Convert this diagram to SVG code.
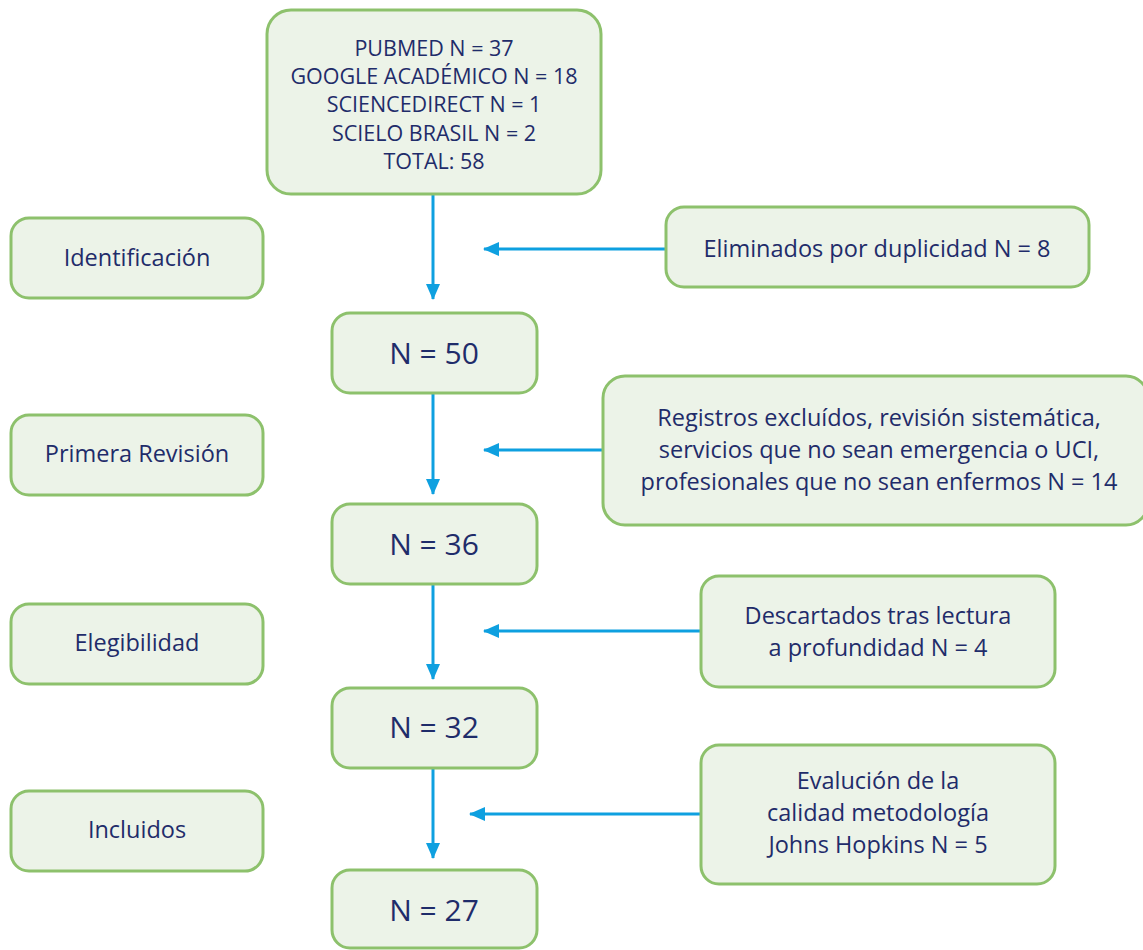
<svg xmlns="http://www.w3.org/2000/svg" width="1143" height="950" viewBox="0 0 1143 950">
<defs>
<style>
.box{fill:#ecf3e8;stroke:#8dc16c;stroke-width:3}
text{font-family:"Open Sans","Noto Sans",sans-serif;fill:#1f2c6a;text-anchor:middle;dominant-baseline:central}
.t{font-size:23.5px}
.s{font-size:21.5px}
.b{font-size:30px}
.c{stroke:#0ea0e0;stroke-width:3;fill:none}
</style>
<marker id="ah2" markerWidth="16" markerHeight="14" refX="15" refY="7" orient="auto" markerUnits="userSpaceOnUse" viewBox="0 0 16 14">
<path d="M0,0 L16,7 L0,14 z" fill="#0ea0e0"/>
</marker>
</defs>
<g id="connectors">
<line class="c" x1="433" y1="195" x2="433" y2="299" marker-end="url(#ah2)"/>
<line class="c" x1="433" y1="394" x2="433" y2="494" marker-end="url(#ah2)"/>
<line class="c" x1="433" y1="585" x2="433" y2="679" marker-end="url(#ah2)"/>
<line class="c" x1="433" y1="769" x2="433" y2="858" marker-end="url(#ah2)"/>
<line class="c" x1="666" y1="249" x2="484" y2="249" marker-end="url(#ah2)"/>
<line class="c" x1="603" y1="450" x2="484" y2="450" marker-end="url(#ah2)"/>
<line class="c" x1="701" y1="631" x2="484" y2="631" marker-end="url(#ah2)"/>
<line class="c" x1="701" y1="814" x2="470" y2="814" marker-end="url(#ah2)"/>
</g>
<g id="sources">
<rect class="box" x="267" y="10" width="334" height="184" rx="24"/>
<text class="s" x="434" y="47">PUBMED N = 37</text>
<text class="s" x="434" y="75">GOOGLE ACADÉMICO N = 18</text>
<text class="s" x="434" y="103">SCIENCEDIRECT N = 1</text>
<text class="s" x="434" y="132">SCIELO BRASIL N = 2</text>
<text class="s" x="434" y="160">TOTAL: 58</text>
</g>
<g id="identificacion">
<rect class="box" x="11" y="218" width="252" height="80" rx="18"/>
<text class="t" x="137" y="257">Identificación</text>
</g>
<g id="primera">
<rect class="box" x="11" y="415" width="252" height="80" rx="18"/>
<text class="t" x="137" y="453">Primera Revisión</text>
</g>
<g id="elegibilidad">
<rect class="box" x="11" y="604" width="252" height="80" rx="18"/>
<text class="t" x="137" y="642">Elegibilidad</text>
</g>
<g id="incluidos">
<rect class="box" x="11" y="791" width="252" height="80" rx="18"/>
<text class="t" x="137" y="829">Incluidos</text>
</g>
<g id="n50">
<rect class="box" x="332" y="313" width="205" height="80" rx="18"/>
<text class="b" x="434" y="352">N = 50</text>
</g>
<g id="n36">
<rect class="box" x="332" y="504" width="205" height="80" rx="18"/>
<text class="b" x="434" y="543">N = 36</text>
</g>
<g id="n32">
<rect class="box" x="332" y="688" width="205" height="80" rx="18"/>
<text class="b" x="434" y="726">N = 32</text>
</g>
<g id="n27">
<rect class="box" x="332" y="870" width="205" height="78" rx="18"/>
<text class="b" x="434" y="909">N = 27</text>
</g>
<g id="duplicados">
<rect class="box" x="666" y="207" width="423" height="80" rx="18"/>
<text class="t" x="877" y="248">Eliminados por duplicidad N = 8</text>
</g>
<g id="excluidos">
<rect class="box" x="603" y="376" width="545" height="149" rx="22"/>
<text class="t" x="879" y="417">Registros excluídos, revisión sistemática,</text>
<text class="t" x="879" y="449">servicios que no sean emergencia o UCI,</text>
<text class="t" x="879" y="481">profesionales que no sean enfermos N = 14</text>
</g>
<g id="descartados">
<rect class="box" x="701" y="576" width="354" height="111" rx="18"/>
<text class="t" x="878" y="615">Descartados tras lectura</text>
<text class="t" x="878" y="647">a profundidad N = 4</text>
</g>
<g id="evaluacion">
<rect class="box" x="701" y="745" width="354" height="139" rx="18"/>
<text class="t" x="878" y="780">Evalución de la</text>
<text class="t" x="878" y="812">calidad metodología</text>
<text class="t" x="878" y="844">Johns Hopkins N = 5</text>
</g>
</svg>
